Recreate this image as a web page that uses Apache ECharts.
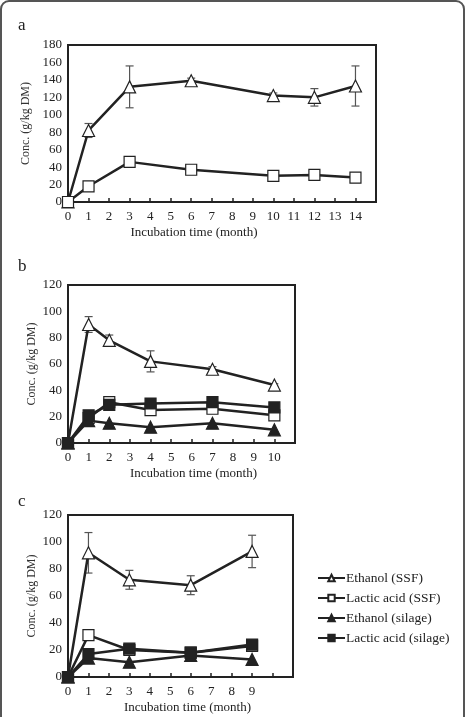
<!DOCTYPE html>
<html lang="en">
<head>
    <meta charset="UTF-8">
    <title>Incubation time</title>
    <script src="https://cdn.jsdelivr.net/npm/echarts@6/dist/echarts.min.js"></script>
    <style>
        body { margin: 0; background: #fff; }
    </style>
</head>
<body>
    <div id="main" style="width: 467px;height:717px;"></div>
    <script>
        // panel a
        var monthsA = [0, 1, 3, 6, 10, 12, 14];
        var ethSsfA = [0, 82, 132, 139, 122, 120, 133];
        var ethSsfErrA = [0, 8, 24, 3, 3, 10, 23];
        var lacSsfA = [0, 18, 46, 37, 30, 31, 28];

        // panel b
        var monthsB = [0, 1, 2, 4, 7, 10];
        var ethSsfB = [0, 90, 78, 62, 56, 44];
        var ethSsfErrB = [0, 6, 4, 8, 2, 1];
        var lacSsfB = [0, 19, 31, 25, 26, 21];
        var ethSilB = [0, 17, 15, 12, 15, 10];
        var lacSilB = [0, 21, 29, 30, 31, 27];

        // panel c
        var monthsC = [0, 1, 3, 6, 9];
        var ethSsfC = [0, 92, 72, 68, 93];
        var ethSsfErrC = [0, 15, 7, 7, 12];
        var lacSsfC = [0, 31, 20, 18, 23];
        var ethSilC = [0, 14, 11, 16, 13];
        var lacSilC = [0, 17, 21, 18, 24];

        var names = ['Ethanol (SSF)', 'Lactic acid (SSF)', 'Ethanol (silage)', 'Lactic acid (silage)'];
        var serif = 'Liberation Serif';
        var ink = '#222';

        var myChart = echarts.init(document.getElementById('main'));

        function pairs(xs, ys) {
            return xs.map(function (x, i) { return [x, ys[i]]; });
        }

        // kind: 0 open triangle, 1 open square, 2 filled triangle, 3 filled square
        function lineSeries(kind, xs, ys, idx) {
            var open = kind < 2;
            return {
                name: names[kind],
                type: 'line',
                xAxisIndex: idx,
                yAxisIndex: idx,
                data: pairs(xs, ys),
                symbol: (kind % 2 === 0) ? 'triangle' : 'rect',
                symbolSize: kind % 2 === 0 ? 12 : 11,
                lineStyle: { color: ink, width: 2.5 },
                itemStyle: {
                    color: open ? '#fff' : ink,
                    borderColor: ink,
                    borderWidth: 1.2
                },
                z: open ? 3 : 4,
                animation: false
            };
        }

        function errSeries(xs, ys, errs, idx) {
            var d = [];
            xs.forEach(function (x, i) {
                if (errs[i] > 0) d.push([x, ys[i] - errs[i], ys[i] + errs[i]]);
            });
            return {
                type: 'custom',
                xAxisIndex: idx,
                yAxisIndex: idx,
                data: d,
                z: 2,
                silent: true,
                animation: false,
                renderItem: function (params, api) {
                    var lo = api.coord([api.value(0), api.value(1)]);
                    var hi = api.coord([api.value(0), api.value(2)]);
                    var w = 4;
                    var st = { stroke: '#555', lineWidth: 1.2 };
                    return {
                        type: 'group',
                        children: [
                            { type: 'line', shape: { x1: hi[0], y1: hi[1], x2: lo[0], y2: lo[1] }, style: st },
                            { type: 'line', shape: { x1: hi[0] - w, y1: hi[1], x2: hi[0] + w, y2: hi[1] }, style: st },
                            { type: 'line', shape: { x1: lo[0] - w, y1: lo[1], x2: lo[0] + w, y2: lo[1] }, style: st }
                        ]
                    };
                }
            };
        }

        function xAxis(idx, max, lastLabel, pad) {
            return {
                type: 'value',
                gridIndex: idx,
                min: 0,
                max: max,
                interval: 1,
                name: 'Incubation time (month)',
                nameLocation: 'middle',
                nameGap: 24,
                nameTextStyle: { fontFamily: serif, fontSize: 13, color: ink, padding: pad },
                axisLine: { lineStyle: { color: ink, width: 2 } },
                axisTick: { inside: true, length: 4, lineStyle: { color: ink, width: 1.5 } },
                axisLabel: {
                    fontFamily: serif, fontSize: 13, color: ink, margin: 8,
                    formatter: function (v) { return v <= lastLabel ? String(v) : ''; }
                },
                splitLine: { show: false }
            };
        }

        function yAxis(idx, max) {
            return {
                type: 'value',
                gridIndex: idx,
                min: 0,
                max: max,
                interval: 20,
                name: 'Conc. (g/kg DM)',
                nameLocation: 'middle',
                nameGap: 30,
                nameTextStyle: { fontFamily: serif, fontSize: 12, color: '#333' },
                axisLine: { lineStyle: { color: ink, width: 2 } },
                axisTick: { show: false },
                axisLabel: { fontFamily: serif, fontSize: 13, color: ink, margin: 6 },
                splitLine: { show: false }
            };
        }

        var gridStyle = { show: true, borderColor: ink, borderWidth: 2, backgroundColor: 'transparent' };

        var option = {
            backgroundColor: '#fff',
            animation: false,
            graphic: [
                { type: 'rect', shape: { x: 1, y: 1, width: 463, height: 760, r: 8 },
                  style: { fill: 'none', stroke: '#555', lineWidth: 2 }, silent: true },
                { type: 'text', left: 18, top: 17, style: { text: 'a', font: '17px "Liberation Serif"', fill: ink } },
                { type: 'text', left: 18, top: 258, style: { text: 'b', font: '17px "Liberation Serif"', fill: ink } },
                { type: 'text', left: 18, top: 493, style: { text: 'c', font: '17px "Liberation Serif"', fill: ink } }
            ],
            legend: {
                data: names,
                orient: 'vertical',
                left: 312,
                top: 566,
                itemWidth: 27,
                itemHeight: 8,
                itemGap: 6,
                selectedMode: false,
                textStyle: { fontFamily: serif, fontSize: 13.5, color: ink, padding: [0, 0, 0, -4] }
            },
            grid: [
                Object.assign({ left: 68, top: 45, width: 308, height: 157 }, gridStyle),
                Object.assign({ left: 68, top: 285, width: 227, height: 158 }, gridStyle),
                Object.assign({ left: 68, top: 515, width: 225, height: 162 }, gridStyle)
            ],
            xAxis: [
                xAxis(0, 15, 14, [0, 56, 0, 0]),
                xAxis(1, 11, 10, [0, 0, 0, 24]),
                xAxis(2, 11, 9, [0, 0, 0, 14])
            ],
            yAxis: [
                yAxis(0, 180),
                yAxis(1, 120),
                yAxis(2, 120)
            ],
            series: [
                errSeries(monthsA, ethSsfA, ethSsfErrA, 0),
                lineSeries(0, monthsA, ethSsfA, 0),
                lineSeries(1, monthsA, lacSsfA, 0),

                errSeries(monthsB, ethSsfB, ethSsfErrB, 1),
                lineSeries(0, monthsB, ethSsfB, 1),
                lineSeries(1, monthsB, lacSsfB, 1),
                lineSeries(2, monthsB, ethSilB, 1),
                lineSeries(3, monthsB, lacSilB, 1),

                errSeries(monthsC, ethSsfC, ethSsfErrC, 2),
                lineSeries(0, monthsC, ethSsfC, 2),
                lineSeries(1, monthsC, lacSsfC, 2),
                lineSeries(2, monthsC, ethSilC, 2),
                lineSeries(3, monthsC, lacSilC, 2)
            ]
        };
        myChart.setOption(option);
    </script>
</body>
</html>
